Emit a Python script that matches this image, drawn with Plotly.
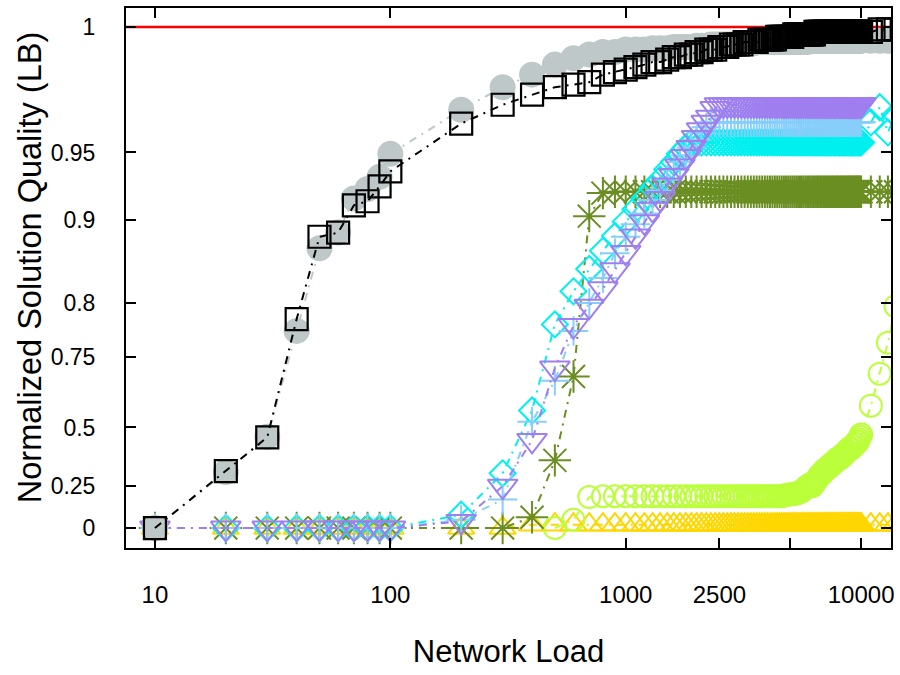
import numpy as np
import plotly.graph_objects as go

# ---------------- data ----------------
X_LOW = [10, 20, 30, 40, 50, 60, 70, 80, 90, 100]
X_MID = [200, 300, 400, 500, 600, 700, 800, 900]
X_HIGH = [1000, 1100, 1200, 1300, 1400, 1500, 1600, 1700, 1800, 1900,
          2000, 2100, 2200, 2300, 2400, 2500, 2600, 2700, 2800, 2900,
          3000, 3100, 3200, 3300, 3400, 3500, 3600, 3700, 3800, 3900,
          4000, 4100, 4200, 4300, 4400, 4500, 4600, 4700, 4800, 4900,
          5000, 5100, 5200, 5300, 5400, 5500, 5600, 5700, 5800, 5900,
          6000, 6100, 6200, 6300, 6400, 6500, 6600, 6700, 6800, 6900,
          7000, 7100, 7200, 7300, 7400, 7500, 7600, 7700, 7800, 7900,
          8000, 8100, 8200, 8300, 8400, 8500, 8600, 8700, 8800, 8900,
          9000, 9100, 9200, 9300, 9400, 9500, 9600, 9700, 9800, 9900, 10000]
X_TAIL = [11000, 12000, 13000, 14000]
LOAD = X_LOW + X_MID + X_HIGH + X_TAIL

N = None
black_squares = (
    [0.0, 0.314, 0.458, 0.785, 0.880, 0.885, 0.911, 0.914, 0.925, 0.936]
    + [0.9615, 0.969, 0.973, 0.976, 0.977, 0.978, 0.981, 0.982]
    + [0.983, 0.984, 0.985, 0.986, 0.986, 0.987, 0.988, 0.988, 0.989, 0.989,
       0.990, 0.990, 0.991, 0.991, 0.991, 0.992, 0.992, 0.992, 0.993, 0.993,
       0.993, 0.993, 0.994, 0.994, 0.994, 0.994, 0.994, 0.995, 0.995, 0.995,
       0.995, 0.995, 0.995, 0.995, 0.996, 0.996, 0.996, 0.996, 0.996, 0.996,
       0.996, 0.996, 0.997, 0.997, 0.997, 0.997, 0.997, 0.997, 0.997, 0.997,
       0.997, 0.997, 0.997, 0.997, 0.998, 0.998, 0.998, 0.998, 0.998, 0.998,
       0.998, 0.998, 0.998, 0.998, 0.998, 0.998, 0.998, 0.998, 0.998, 0.998,
       0.998, 0.998, 0.998, 0.998, 0.998, 0.998, 0.998, 0.998, 0.998, 0.998,
       0.998, 0.998, 0.998, 0.998, 0.998, 0.998, 0.998, 0.998, 0.998, 0.998, 0.998]
    + [0.998, 0.999, 0.999, 0.999]
)
gray_circles = (
    [0.0, 0.31, 0.46, 0.774, 0.866, 0.885, 0.916, 0.923, 0.932, 0.949]
    + [0.967, 0.976, 0.981, 0.985, 0.9875, 0.989, 0.990, 0.990]
    + [0.991, 0.991, 0.991, 0.9915, 0.9915, 0.9915, 0.992, 0.992, 0.992, 0.992,
       0.9925, 0.9925, 0.9925, 0.993, 0.993, 0.993, 0.993, 0.993, 0.993, 0.993,
       0.9935, 0.9935, 0.9935, 0.9935, 0.9935, 0.9935, 0.994, 0.994, 0.994, 0.994,
       0.994, 0.994, 0.994, 0.994, 0.994, 0.994, 0.994, 0.994, 0.994, 0.994,
       0.994, 0.994, 0.994, 0.994, 0.994, 0.994, 0.994, 0.994, 0.994, 0.994,
       0.9945, 0.9945, 0.9945, 0.9945, 0.9945, 0.9945, 0.9945, 0.9945, 0.9945, 0.9945,
       0.9945, 0.9945, 0.9945, 0.9945, 0.9945, 0.9945, 0.9945, 0.9945, 0.9945, 0.9945,
       0.9945, 0.9945, 0.9945, 0.9945, 0.9945, 0.9945, 0.9945, 0.9945, 0.9945, 0.9945,
       0.9945, 0.9945, 0.9945, 0.9945, 0.9945, 0.9945, 0.9945, 0.9945, 0.9945, 0.9945, 0.9945]
    + [0.9945, 0.9945, 0.9945, 0.9945]
)
cyan_diamonds = (
    [0, 0, 0, 0, 0, 0, 0, 0, 0, 0]
    + [0.08, 0.305, 0.56, 0.78, 0.814, 0.841, 0.863, 0.881]
    + [0.898, 0.908, 0.916, 0.9235, 0.930, 0.9375, 0.943, 0.949, 0.952, 0.954,
       0.954, 0.954, 0.954, 0.954, 0.954, 0.954, 0.954, 0.954, 0.954, 0.954,
       0.954, 0.954, 0.954, 0.954, 0.954, 0.954, 0.954, 0.954, 0.954, 0.954,
       0.954, 0.954, 0.954, 0.954, 0.954, 0.954, 0.954, 0.954, 0.954, 0.954,
       0.954, 0.954, 0.954, 0.954, 0.954, 0.954, 0.954, 0.954, 0.954, 0.954,
       0.954, 0.954, 0.954, 0.954, 0.954, 0.954, 0.954, 0.954, 0.954, 0.954,
       0.954, 0.954, 0.954, 0.954, 0.954, 0.954, 0.954, 0.954, 0.954, 0.954,
       0.954, 0.954, 0.954, 0.954, 0.954, 0.954, 0.954, 0.954, 0.954, 0.954,
       0.954, 0.954, 0.954, 0.954, 0.954, 0.954, 0.954, 0.954, 0.954, 0.954, 0.954]
    + [0.962, 0.968, 0.958, 0.965]
)
lightblue_plus = (
    [0, 0, 0, 0, 0, 0, 0, 0, 0, 0]
    + [0.05, 0.17, 0.52, 0.665, 0.774, 0.80, 0.83, 0.86]
    + [0.88, 0.895, 0.905, 0.915, 0.922, 0.93, 0.937, 0.943, 0.948, 0.952,
       0.955, 0.958, 0.96, 0.962, 0.962, 0.962, 0.962, 0.962, 0.962, 0.962,
       0.962, 0.962, 0.962, 0.962, 0.962, 0.962, 0.962, 0.962, 0.962, 0.962,
       0.962, 0.962, 0.962, 0.962, 0.962, 0.962, 0.962, 0.962, 0.962, 0.962,
       0.962, 0.962, 0.962, 0.962, 0.962, 0.962, 0.962, 0.962, 0.962, 0.962,
       0.962, 0.962, 0.962, 0.962, 0.962, 0.962, 0.962, 0.962, 0.962, 0.962,
       0.962, 0.962, 0.962, 0.962, 0.962, 0.962, 0.962, 0.962, 0.962, 0.962,
       0.962, 0.962, 0.962, 0.962, 0.962, 0.962, 0.962, 0.962, 0.962, 0.962,
       0.962, 0.962, 0.962, 0.962, 0.962, 0.962, 0.962, 0.962, 0.962, 0.962, 0.962]
    + [N, N, N, N]
)
purple_triangles = (
    [0, 0, 0, 0, 0, 0, 0, 0, 0, 0]
    + [0.04, 0.25, 0.445, 0.71, 0.779, 0.797, 0.817, 0.84]
    + [0.861, 0.881, 0.898, 0.908, 0.916, 0.926, 0.933, 0.940, 0.947, 0.952,
       0.956, 0.959, 0.962, 0.964, 0.9675, 0.969, 0.969, 0.969, 0.969, 0.969,
       0.969, 0.969, 0.969, 0.969, 0.969, 0.969, 0.969, 0.969, 0.969, 0.969,
       0.969, 0.969, 0.969, 0.969, 0.969, 0.969, 0.969, 0.969, 0.969, 0.969,
       0.969, 0.969, 0.969, 0.969, 0.969, 0.969, 0.969, 0.969, 0.969, 0.969,
       0.969, 0.969, 0.969, 0.969, 0.969, 0.969, 0.969, 0.969, 0.969, 0.969,
       0.969, 0.969, 0.969, 0.969, 0.969, 0.969, 0.969, 0.969, 0.969, 0.969,
       0.969, 0.969, 0.969, 0.969, 0.969, 0.969, 0.969, 0.969, 0.969, 0.969,
       0.969, 0.969, 0.969, 0.969, 0.969, 0.969, 0.969, 0.969, 0.969, 0.969, 0.969]
    + [N, N, N, N]
)
olive_asterisks = (
    [0, 0, 0, 0, 0, 0, 0, 0, 0, 0]
    + [0.0, 0.0, 0.065, 0.36, 0.68, 0.903, 0.92, 0.921]
    + [0.921] * 91
    + [0.921, 0.921, 0.921, 0.921]
)
greenyellow_circles = (
    [N, N, N, N, N, N, N, N, N, N]
    + [N, N, N, 0.0, 0.05, 0.185, 0.19, 0.19]
    + [0.19, 0.19, 0.19, 0.19, 0.19, 0.19, 0.19, 0.19, 0.19, 0.19,
       0.19, 0.19, 0.19, 0.19, 0.19, 0.19, 0.19, 0.19, 0.19, 0.19,
       0.19, 0.19, 0.19, 0.19, 0.19, 0.19, 0.19, 0.19, 0.19, 0.19,
       0.19, 0.19, 0.19, 0.19, 0.19, 0.19, 0.19, 0.195, 0.197, 0.2,
       0.2, 0.203, 0.205, 0.207, 0.21, 0.215, 0.22, 0.23, 0.24, 0.25,
       0.25, 0.26, 0.25, 0.26, 0.27, 0.28, 0.29, 0.30, 0.30, 0.31,
       0.32, 0.32, 0.33, 0.33, 0.34, 0.34, 0.35, 0.35, 0.36, 0.36,
       0.37, 0.37, 0.37, 0.38, 0.38, 0.39, 0.39, 0.40, 0.40, 0.41,
       0.41, 0.41, 0.42, 0.42, 0.43, 0.43, 0.44, 0.44, 0.45, 0.46, 0.47]
    + [0.577, 0.69, 0.763, 0.797]
)
gold_triangles = (
    [0, 0, 0, 0, 0, 0, 0, 0, 0, 0]
    + [0.0, 0.0, 0.02, 0.02, 0.02, 0.02, 0.02, 0.02]
    + [0.02] * 91
    + [0.02, 0.02, 0.02, 0.02]
)

Y_TICK_VALS = [0, 0.25, 0.5, 0.75, 0.8, 0.9, 0.95, 1.0]
Y_TICK_TEXT = ["0", "0.25", "0.5", "0.75", "0.8", "0.9", "0.95", "1"]
X_TICK_VALS = [10, 100, 1000, 2500, 5000, 10000]
X_TICK_TEXT = ["10", "100", "1000", "2500", "", "10000"]

# non-linear quality scale of the original axis (value -> axis position)
Y_SCALE_POS = [0, 42, 101, 172, 226, 309, 377, 503]


def yscale(vals):
    arr = np.array([np.nan if v is None else v for v in vals], dtype=float)
    out = np.interp(arr, Y_TICK_VALS, Y_SCALE_POS)
    out[np.isnan(arr)] = np.nan
    return out


fig = go.Figure()

series = [
    (gold_triangles, "#FFD700", "triangle-up-open", 23),
    (greenyellow_circles, "#BBFF3A", "circle-open", 22),
    (olive_asterisks, "#6B8E23", "asterisk-open", 27),
    (cyan_diamonds, "#00F0F0", "diamond-open", 20),
    (lightblue_plus, "#87CEFA", "cross-thin-open", 21),
    (purple_triangles, "#9F7FEF", "triangle-down-open", 26),
]

DASH = "8px,6px,2px,6px"
for vals, col, sym, size in series:
    fig.add_trace(go.Scatter(
        x=LOAD, y=yscale(vals), mode="lines+markers",
        line=dict(color=col, width=2, dash=DASH),
        marker=dict(symbol=sym, size=size, color=col, line=dict(color=col, width=2)),
        showlegend=False, hoverinfo="skip"))

fig.add_trace(go.Scatter(
    x=LOAD, y=yscale(gray_circles), mode="lines+markers",
    line=dict(color="#BFC8C8", width=2, dash=DASH),
    marker=dict(symbol="circle", size=26, color="#BFC8C8", line=dict(width=0)),
    showlegend=False, hoverinfo="skip"))

fig.add_trace(go.Scatter(
    x=LOAD, y=yscale(black_squares), mode="lines+markers",
    line=dict(color="black", width=2, dash=DASH),
    marker=dict(symbol="square-open", size=22, color="black", line=dict(color="black", width=2.2)),
    showlegend=False, hoverinfo="skip"))

fig.add_hline(y=float(yscale([1.0])[0]), line=dict(color="#FF0000", width=2.5), layer="below")

font_family = "Liberation Sans, Arial, sans-serif"

fig.update_layout(
    width=900, height=675,
    margin=dict(l=126, r=7, t=6, b=127),
    paper_bgcolor="white", plot_bgcolor="white",
    font=dict(family=font_family, color="black"),
    xaxis=dict(
        type="log", range=[0.877, 4.127],
        tickvals=X_TICK_VALS, ticktext=X_TICK_TEXT,
        ticks="inside", ticklen=10, tickwidth=1.5, tickcolor="black",
        showline=True, linecolor="black", linewidth=2, mirror="ticks",
        showgrid=False, zeroline=False,
        tickfont=dict(size=24),
        ticklabelstandoff=24,
        title=dict(text="Network Load", font=dict(size=31), standoff=34),
    ),
    yaxis=dict(
        range=[-20, 522],
        tickvals=list(yscale(Y_TICK_VALS)), ticktext=Y_TICK_TEXT,
        ticks="inside", ticklen=10, tickwidth=1.5, tickcolor="black",
        showline=True, linecolor="black", linewidth=2, mirror="ticks",
        showgrid=False, zeroline=False,
        tickfont=dict(size=23), ticklabelstandoff=24,
    ),
    annotations=[dict(
        text="Normalized Solution Quality (LB)", textangle=-90,
        xref="paper", yref="paper", x=-0.1252, y=0.5185,
        xanchor="center", yanchor="middle", showarrow=False,
        font=dict(size=32.5))],
)

fig.write_html("out.html")
